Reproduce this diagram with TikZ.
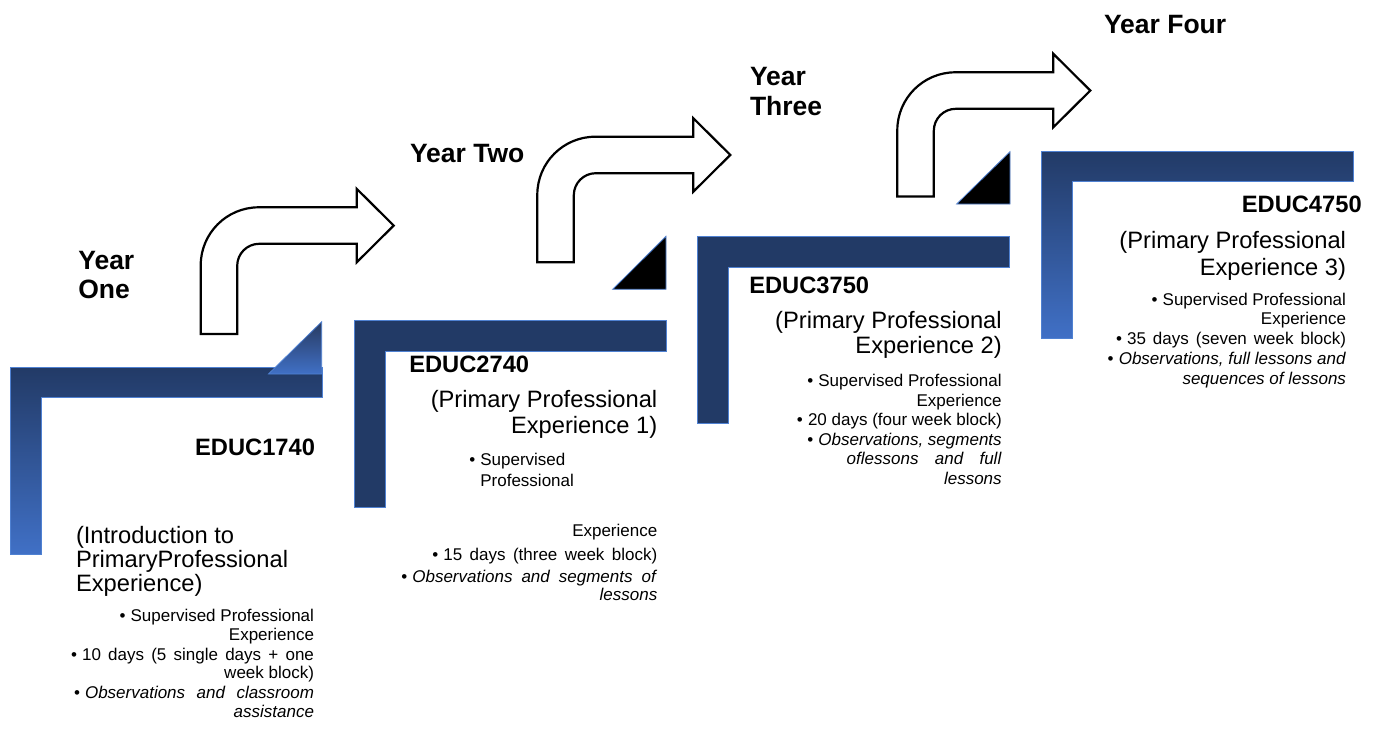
\documentclass[tikz,border=0pt]{standalone}
\usepackage{fontspec}
\setmainfont{Liberation Sans}
\definecolor{navy}{RGB}{34,58,102}
\definecolor{lightblue}{RGB}{64,112,198}
\definecolor{edgeblue}{RGB}{79,129,210}
\definecolor{tridark}{RGB}{40,58,96}
\newcommand\rightlines[1]{\begin{tabular}[t]{@{}r@{}}#1\end{tabular}}
\newcommand\leftlines[1]{\begin{tabular}[t]{@{}l@{}}#1\end{tabular}}
\newcommand\jline[2]{\makebox[#1pt][s]{#2}}
\newcommand\bul{•\hspace*{0.3em}}
% L-shaped step, origin at its outer top-left corner
\newcommand\stepL[3]{%
  \path[stepshape,#3] (#1,#2) -- ++(312,0) -- ++(0,30.5) -- ++(-281,0) -- ++(0,156.5) -- ++(-31,0) -- cycle;}
\newcommand\bentArrow[3]{%
  \begin{scope}[shift={(#1,#2)}]
    \draw[bentarrow] (0,0) -- (0,{-#3+58})
      .. controls (0,{-#3+26}) and (26,{-#3}) .. (58,{-#3})
      -- (156,{-#3}) -- (156,{-#3-18.5}) -- (193,{-#3+18.25})
      -- (156,{-#3+55}) -- (156,{-#3+36.5}) -- (58.5,{-#3+36.5})
      .. controls (46.35,{-#3+36.5}) and (36.5,{-#3+46.35}) .. (36.5,{-#3+58.5})
      -- (36.5,0) -- cycle;
  \end{scope}}
\tikzset{
  stepshape/.style={draw=edgeblue, line width=0.8pt},
  gradstep/.style={top color=navy, bottom color=lightblue},
  solidstep/.style={fill=navy},
  bentarrow/.style={draw=black, fill=white, line width=2.2pt, line join=miter},
  tribase/.style={draw=edgeblue, line width=0.8pt},
  lbl/.style={inner sep=0pt, outer sep=0pt},
  yearlbl/.style={lbl, font=\fontsize{26.5}{29}\selectfont\bfseries},
  codelbl/.style={lbl, font=\fontsize{23.7}{26}\selectfont\bfseries},
}
\begin{document}
\begin{tikzpicture}[x=1pt,y=-1pt]
\useasboundingbox (0,0) rectangle (1378,731);
\fill[white] (0,0) rectangle (1378,731);

% steps
\stepL{10}{367}{gradstep}
\stepL{354}{320.7}{solidstep}
\stepL{697.3}{236.7}{solidstep}
\stepL{1041.7}{151}{gradstep}

% triangles
\path[tribase, top color=tridark, bottom color=lightblue] (321.7,374) -- (321.7,321.7) -- (268.5,374) -- cycle;
\path[tribase, fill=black] (666,289.3) -- (666,236.3) -- (612.7,289.3) -- cycle;
\path[tribase, fill=black] (1010,204) -- (1010,151.7) -- (956.7,204) -- cycle;

% bent arrows
\bentArrow{200.7}{334}{126.7}
\bentArrow{537.3}{262.3}{125.6}
\bentArrow{897.3}{196.5}{124.2}

% Year labels
\node[yearlbl, anchor=base west] (yr1) at (78.3,269.3) {\leftlines{Year\\One}};
\node[yearlbl, anchor=base west] (yr2) at (410,162) {Year Two};
\node[yearlbl, anchor=base west, font=\fontsize{26.5}{30}\selectfont\bfseries] (yr3) at (750,85) {\leftlines{Year\\Three}};
\node[yearlbl, anchor=base west] (yr4) at (1104,33) {Year Four};

% course codes
\node[codelbl, anchor=base east] (ed1) at (315,455) {EDUC1740};
\node[codelbl, anchor=base west] (ed2) at (409.3,372.7) {EDUC2740};
\node[codelbl, anchor=base west] (ed3) at (749.3,293.3) {EDUC3750};
\node[codelbl, anchor=base east] (ed4) at (1361.7,212.7) {EDUC4750};

% subtitles
\node[lbl, anchor=base west, font=\fontsize{23.7}{23.3}\selectfont] (sub1) at (76,543)
  {\leftlines{(Introduction to\\PrimaryProfessional\\Experience)}};
\node[lbl, anchor=base east, font=\fontsize{23.7}{26}\selectfont] (sub2) at (657.3,407.7)
  {\rightlines{(Primary Professional\\Experience 1)}};
\node[lbl, anchor=base east, font=\fontsize{23.7}{25}\selectfont] (sub3) at (1001.7,328.3)
  {\rightlines{(Primary Professional\\Experience 2)}};
\node[lbl, anchor=base east, font=\fontsize{23.7}{26.7}\selectfont] (sub4) at (1346,248.3)
  {\rightlines{(Primary Professional\\Experience 3)}};

% bullet lists
\node[lbl, anchor=base east, font=\fontsize{17}{18.3}\selectfont] (bl1) at (314,621.7)
  {\rightlines{\bul Supervised Professional\\Experience\\[2pt]\jline{243}{\bul 10 days (5 single days + one}\\week block)\\[2pt]\jline{240}{\bul\textit{Observations and classroom}}\\\textit{assistance}}};
\node[lbl, anchor=base west, font=\fontsize{17}{21}\selectfont] (bl2a) at (469.3,465)
  {\leftlines{\bul Supervised\\\phantom{\bul}Professional}};
\node[lbl, anchor=base east, font=\fontsize{17}{18}\selectfont] (bl2b) at (657.3,536)
  {\rightlines{Experience\\[6.5pt]\jline{225}{\bul 15 days (three week block)}\\[4pt]\jline{256}{\bul\textit{Observations and segments of}}\\\textit{lessons}}};
\node[lbl, anchor=base east, font=\fontsize{17}{19.5}\selectfont] (bl3) at (1001.7,386.7)
  {\rightlines{\bul Supervised Professional\\Experience\\\bul 20 days (four week block)\\\bul\textit{Observations, segments}\\\jline{155}{\textit{oflessons and full}}\\\textit{lessons}}};
\node[lbl, anchor=base east, font=\fontsize{17}{19.8}\selectfont] (bl4) at (1346,305)
  {\rightlines{\bul Supervised Professional\\Experience\\\jline{230}{\bul 35 days (seven week block)}\\\bul\textit{Observations, full lessons and}\\\textit{sequences of lessons}}};
\end{tikzpicture}
\end{document}
